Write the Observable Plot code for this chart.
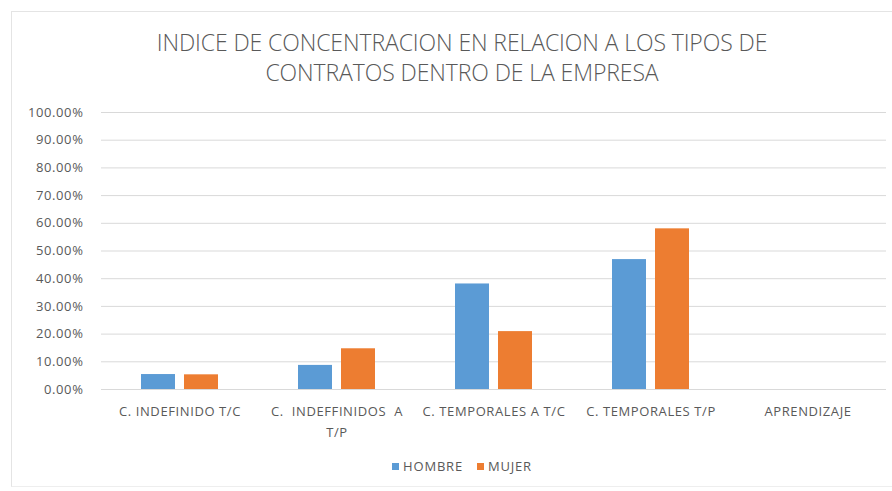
<!DOCTYPE html>
<html>
<head>
<meta charset="utf-8">
<script src="https://cdn.jsdelivr.net/npm/d3@7"></script>
<script src="https://cdn.jsdelivr.net/npm/@observablehq/plot@0.6"></script>
<style>
  html, body { margin: 0; padding: 0; background: #fff; }
  #wrap { position: relative; width: 892px; height: 491px; overflow: hidden; font-family: "Open Sans", "Noto Sans", sans-serif; }
  #frame { position: absolute; left: 11px; top: 11px; width: 900px; height: 476px; border-left: 1px solid #e4e4e4; border-top: 1px solid #e4e4e4; border-bottom: 1px solid #eeeeee; box-sizing: border-box; }
  #title { position: absolute; left: 0; width: 924px; top: 27px; text-align: center; font-size: 23px; line-height: 30px; color: #595959; font-weight: 300; letter-spacing: -0.1px; }
  #chart { position: absolute; left: 0; top: 95px; }
  #legend { position: absolute; top: 457px; left: 0; width: 924px; text-align: center; font-size: 13px; letter-spacing: 0.8px; color: #595959; }
  #legend span.item { display: inline-block; margin: 0 7px; }
  #legend span.sw { display: inline-block; width: 7px; height: 7px; margin-right: 4px; vertical-align: 1px; }
</style>
</head>
<body>
<div id="wrap">
  <div id="frame"></div>
  <div id="title">INDICE DE CONCENTRACION EN RELACION A LOS TIPOS DE<br>CONTRATOS DENTRO DE LA EMPRESA</div>
  <div id="chart"></div>
  <div id="legend"></div>
</div>
<script>
const categories = ["C. INDEFINIDO T/C", "C.  INDEFFINIDOS  A T/P", "C. TEMPORALES A T/C", "C. TEMPORALES T/P", "APRENDIZAJE"];
const categoryLabels = ["C. INDEFINIDO T/C", "C.  INDEFFINIDOS  A\nT/P", "C. TEMPORALES A T/C", "C. TEMPORALES T/P", "APRENDIZAJE"];
const series = ["HOMBRE", "MUJER"];
const hombre = [0.054, 0.087, 0.381, 0.469, 0];
const mujer = [0.053, 0.147, 0.209, 0.580, 0];
const colors = ["#5B9BD5", "#ED7D31"];
const yTicks = [0, 0.1, 0.2, 0.3, 0.4, 0.5, 0.6, 0.7, 0.8, 0.9, 1.0];

const data = [];
categories.forEach((c, i) => {
  data.push({category: c, serie: series[0], value: hombre[i]});
  data.push({category: c, serie: series[1], value: mujer[i]});
});

const labelOf = new Map(categories.map((c, i) => [c, categoryLabels[i]]));

const chart = Plot.plot({
  width: 892,
  height: 355,
  marginLeft: 100,
  marginRight: 5,
  marginTop: 17,
  marginBottom: 61,
  style: { fontFamily: "'Open Sans', 'Noto Sans', sans-serif", color: "#595959", background: "transparent", letterSpacing: "0.6px" },
  fx: { domain: categories, padding: 0 },
  x: { domain: series, paddingInner: 0.2, paddingOuter: 0.89 },
  y: { domain: [0, 1] },
  color: { domain: series, range: colors },
  marks: [
    Plot.gridY(yTicks, { stroke: "#d9d9d9", strokeOpacity: 1, strokeWidth: 1 }),
    Plot.axisY(yTicks, { anchor: "left", tickSize: 0, tickPadding: 18, tickFormat: d => (d * 100).toFixed(2) + "%", fontSize: 13, fill: "#595959", label: null }),
    Plot.axisFx({ anchor: "bottom", tickSize: 0, tickPadding: 12, tickFormat: d => labelOf.get(d), fontSize: 13, lineHeight: 1.6, fill: "#595959", label: null }),
    Plot.axisX({ ticks: [], label: null }),
    Plot.barY(data, { fx: "category", x: "serie", y: "value", fill: "serie" })
  ]
});
document.getElementById("chart").appendChild(chart);

const legend = document.getElementById("legend");
series.forEach((s, i) => {
  const item = document.createElement("span");
  item.className = "item";
  const sw = document.createElement("span");
  sw.className = "sw";
  sw.style.background = colors[i];
  item.appendChild(sw);
  item.appendChild(document.createTextNode(s));
  legend.appendChild(item);
});
</script>
</body>
</html>
